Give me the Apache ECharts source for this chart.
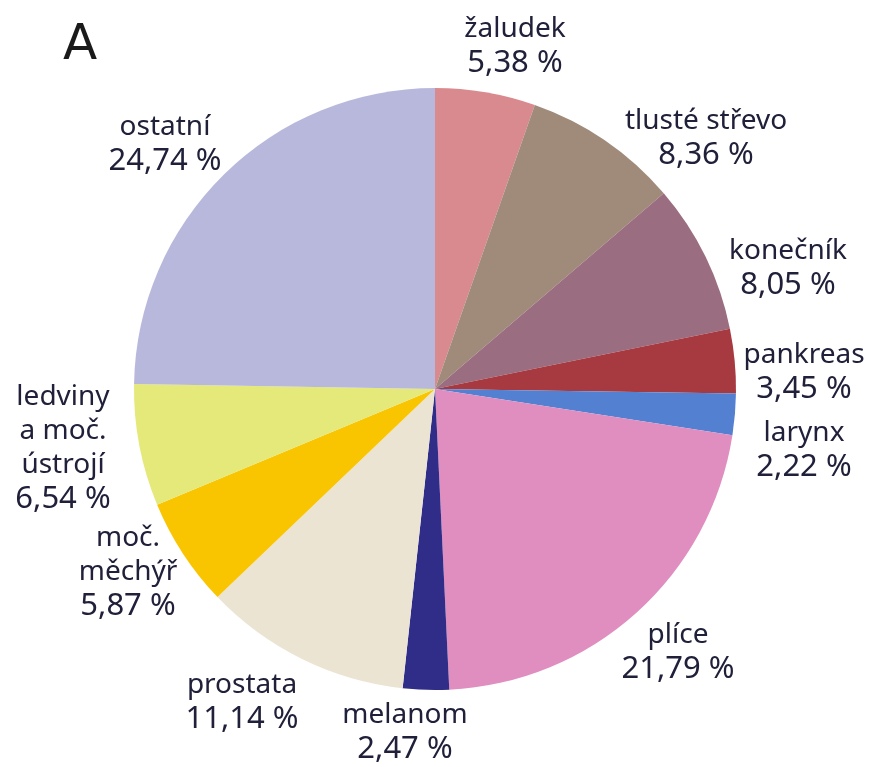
<!DOCTYPE html>
<html>
<head>
<meta charset="utf-8">
<script src="https://cdn.jsdelivr.net/npm/echarts@6/dist/echarts.min.js"></script>
<style>html,body{margin:0;padding:0;background:#fff}#c{width:879px;height:767px}</style>
</head>
<body>
<div id="c"></div>
<script>
var categories = ['žaludek','tlusté střevo','konečník','pankreas','larynx','plíce','melanom','prostata','moč.\nměchýř','ledviny\na moč.\nústrojí','ostatní'];
var values = [5.38, 8.36, 8.05, 3.45, 2.22, 21.79, 2.47, 11.14, 5.87, 6.54, 24.74];
var valueLabels = ['5,38 %','8,36 %','8,05 %','3,45 %','2,22 %','21,79 %','2,47 %','11,14 %','5,87 %','6,54 %','24,74 %'];

var colors = ['#d98a8e','#a08b7b','#9a6d80','#a73a40','#5480d2','#e08dc0','#2f2d88','#ece4d3','#f9c400','#e5e97a','#b8b8dc'];
var labelPos = [[515,46],[706,138],[788,268],[804,372],[804,450],[678,652],[405,732],[242,702],[128,572],[63,448],[165,144]];

var chart = echarts.init(document.getElementById('c'));
var data = categories.map(function(c,i){
  return {name:c, value:values[i], itemStyle:{color:colors[i]}};
});
chart.setOption({
  backgroundColor:'#ffffff',
  animation:false,
  title:{text:'A', left:58, top:16, textStyle:{fontFamily:'DejaVu Sans', fontWeight:'normal', fontSize:50, color:'#1a1a1a'}},
  series:[{
    type:'pie',
    center:[435,389],
    radius:301,
    startAngle:90,
    clockwise:true,
    data:data,
    label:{
      show:true,
      position:'outside',
      fontFamily:'Noto Sans',
      color:'#20203a',
      align:'center',
      overflow:'none',
      width:300,
      formatter:function(p){
        var lines = p.name.split('\n').map(function(s){ return '{n|' + s + '}'; });
        lines.push('{v|' + valueLabels[p.dataIndex] + '}');
        return lines.join('\n');
      },
      rich:{
        n:{fontFamily:'Noto Sans', fontSize:28, lineHeight:34, color:'#20203a'},
        v:{fontFamily:'Noto Sans', fontSize:31, lineHeight:34, color:'#20203a'}
      }
    },
    labelLine:{show:false},
    labelLayout:function(p){
      var pos = labelPos[p.dataIndex];
      return {x:pos[0], y:pos[1], align:'center', verticalAlign:'middle', hideOverlap:false, moveOverlap:null};
    },
    emphasis:{disabled:true}
  }]
});
</script>
</body>
</html>
